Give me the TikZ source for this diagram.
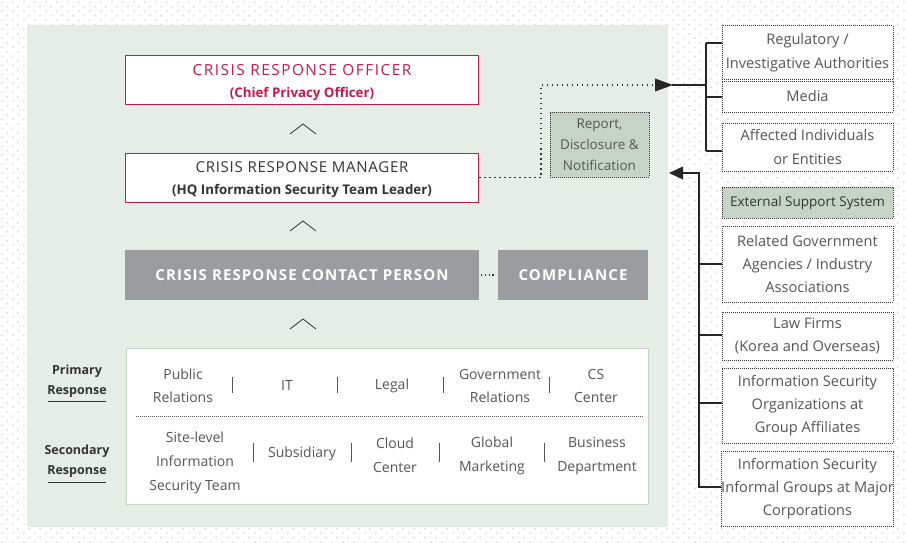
\documentclass[tikz,border=0pt]{standalone}
\usepackage{fontspec}
\setmainfont{Open Sans}
\newfontfamily\spaced[LetterSpace=5]{Open Sans}
\newfontfamily\spacedw[LetterSpace=10]{Open Sans}
\newfontfamily\spacedb[LetterSpace=7.5]{Open Sans}
\usetikzlibrary{patterns,arrows.meta}
\definecolor{panel}{HTML}{E6EDE6}
\definecolor{crimson}{HTML}{C8194B}
\definecolor{txt}{HTML}{555555}
\definecolor{dtxt}{HTML}{333333}
\definecolor{boxgray}{HTML}{9B9CA0}
\definecolor{sage}{HTML}{C6D4C7}
\definecolor{pborder}{HTML}{C2D6C3}
\definecolor{dotc}{HTML}{C2C2C2}
\pgfdeclarepatternformonly{bgdots}{\pgfqpoint{0pt}{0pt}}{\pgfqpoint{10.6pt}{9.3pt}}{\pgfqpoint{10.6pt}{9.3pt}}{%
  \pgfpathcircle{\pgfqpoint{2pt}{2pt}}{0.8pt}%
  \pgfpathcircle{\pgfqpoint{7.3pt}{6.65pt}}{0.8pt}%
  \pgfusepath{fill}}
\tikzset{
  redbox/.style={draw=crimson, line width=1pt, fill=white, minimum width=353pt, minimum height=49pt, inner sep=0pt},
  redtext/.style={align=center, inner sep=0pt, font=\fontsize{15}{22.5}\selectfont},
  graybox/.style={fill=boxgray, minimum height=50pt, text=white, inner sep=0pt, font=\spacedb\bfseries\fontsize{15}{18}\selectfont},
  extbox/.style={draw=dtxt, line width=0.7pt, dash pattern=on 0.7pt off 1.3pt, fill=white, minimum width=171pt, inner sep=0pt, align=center, text=txt, font=\fontsize{14.6}{23}\selectfont},
  sagebox/.style={extbox, fill=sage},
  item/.style={align=center, text=txt, inner sep=0pt, font=\fontsize{14}{23}\selectfont},
  item24/.style={item, font=\fontsize{14}{24}\selectfont},
  lbl/.style={align=center, text=dtxt, inner sep=0pt, font=\bfseries\fontsize{12.5}{20}\selectfont},
  bar/.style={draw=txt, line width=1pt},
  chev/.style={draw=dtxt, line width=0.8pt},
  solidline/.style={draw=black!85, line width=1.1pt},
  dotline/.style={draw=dtxt, line width=1.5pt, dash pattern=on 1.5pt off 3.5pt},
}
\begin{document}
\begin{tikzpicture}[x=1pt,y=-1pt]
\useasboundingbox (0,0) rectangle (906,543);
\fill[white] (0,0) rectangle (906,543);
\fill[pattern=bgdots, pattern color=dotc] (0,0) rectangle (906,543);
\fill[panel] (27,25) rectangle (668,527);

% hierarchy
\node[redbox] (cro) at (302,80.5) {};
\node[redtext, text=crimson] (crot) at ([yshift=-2pt]cro.center) {{\spacedw\fontsize{15.3}{22.5}\selectfont CRISIS RESPONSE OFFICER}\\{\bfseries\fontsize{13.3}{22.5}\selectfont (Chief Privacy Officer)}};
\node[redbox] (crm) at (302,177.5) {};
\node[redtext, text=dtxt] (crmt) at ([yshift=-2pt]crm.center) {{\spaced CRISIS RESPONSE MANAGER}\\{\bfseries\fontsize{13.3}{22.5}\selectfont (HQ Information Security Team Leader)}};
\node[graybox, minimum width=354pt] (ccp) at (302,275) {CRISIS RESPONSE CONTACT PERSON};
\node[graybox, minimum width=150pt] (comp) at (573,275) {COMPLIANCE};
\draw[draw=dtxt, line width=1.2pt, dash pattern=on 1.2pt off 2.5pt] (ccp.east) ++(2,0) -- ([xshift=-2pt]comp.west);

\draw[chev] (290,134) -- (303,124) -- (316,134);
\draw[chev] (290,231) -- (303,221) -- (316,231);
\draw[chev] (290,329) -- (303,319) -- (316,329);

% report box
\node[draw=dtxt, line width=0.7pt, dash pattern=on 0.7pt off 1.3pt, fill=sage, minimum width=99pt, minimum height=65pt, align=center, text=txt, inner sep=0pt, font=\fontsize{13.5}{21}\selectfont] (rep) at (599.5,144.5) {Report,\\Disclosure \&\\Notification};

% external boxes
\node[extbox, minimum height=54pt, font=\fontsize{14.6}{24}\selectfont] (reg) at (807.5,52.5) {Regulatory /\\Investigative Authorities};
\node[extbox, minimum height=31pt] (media) at (807.5,96.5) {Media};
\node[extbox, minimum height=48pt, font=\fontsize{14.6}{24}\selectfont] (aff) at (807.5,147) {Affected Individuals\\or Entities};
\node[sagebox, minimum height=31pt, font=\fontsize{13.5}{20}\selectfont, text=dtxt] (ess) at (807.5,202.5) {External Support System};
\node[extbox, minimum height=76pt] (gov) at (807.5,264) {Related Government\\Agencies / Industry\\Associations};
\node[extbox, minimum height=48pt] (law) at (807.5,336) {Law Firms\\(Korea and Overseas)};
\node[extbox, minimum height=75pt] (isorg) at (807.5,405.5) {Information Security\\Organizations at\\Group Affiliates};
\node[extbox, minimum height=75pt] (isinf) at (807.5,488.5) {Information Security\\Informal Groups at Major\\Corporations};

% connectors top
\coordinate (b1) at (706,85);
\coordinate (dt) at (541,85);
\coordinate (db) at (541,177.5);
\coordinate (tip1) at (673,85);
\draw[dotline] (crm.east) -- (db) -- (dt) -- (tip1);
\fill[black!85] (tip1) -- ++(-18,-6.5) -- ++(0,13) -- cycle;
\draw[solidline] (tip1) -- (b1);
\draw[solidline] (706,43) -- (706,151);
\draw[solidline] (706,43) -- (reg.west |- 0,43);
\draw[solidline] (706,97) -- (media.west |- 0,97);
\draw[solidline] (706,151) -- (aff.west |- 0,151);

% connectors bottom
\coordinate (b2) at (699,173);
\coordinate (tip2) at (669,173);
\draw[solidline] (isinf.west |- 0,487) -- (699,487) -- (b2) -- ([xshift=12pt]tip2);
\fill[black!85] (tip2) -- ++(14,-6.5) -- ++(0,13) -- cycle;
\draw[solidline] (699,264) -- (gov.west |- 0,264);
\draw[solidline] (699,335) -- (law.west |- 0,335);
\draw[solidline] (699,403) -- (isorg.west |- 0,403);

% primary/secondary box
\node[draw=pborder, line width=1pt, fill=white, minimum width=522pt, minimum height=156pt, inner sep=0pt] (resp) at (387,426) {};
\draw[draw=txt, line width=0.6pt, dash pattern=on 0.6pt off 1.4pt] (136,416) -- (643,416);

\node[lbl] (prim) at (77,381.5) {Primary\\Response};
\draw[draw=dtxt, line width=1pt] (48,401) -- (106,401);
\node[lbl] (sec) at (77,461) {Secondary\\Response};
\draw[draw=dtxt, line width=1pt] (48,482) -- (106,482);

\node[item] (p1) at (183,386) {Public\\Relations};
\node[item] (p2) at (287,386) {IT};
\node[item] (p3) at (392,386) {Legal};
\node[item] (p4) at (500,386) {Government\\Relations};
\node[item] (p5) at (596,386) {CS\\Center};
\foreach \x in {232,337,443,549} \draw[bar] (\x,377) -- (\x,393);

\node[item24] (s1) at (195,463) {Site-level\\Information\\Security Team};
\node[item] (s2) at (302,453.5) {Subsidiary};
\node[item24] (s3) at (395,455) {Cloud\\Center};
\node[item24] (s4) at (492,455.5) {Global\\Marketing};
\node[item24] (s5) at (597,456) {Business\\Department};
\foreach \x in {253,351,439,544} \draw[bar] (\x,443) -- (\x,462);
\end{tikzpicture}
\end{document}
